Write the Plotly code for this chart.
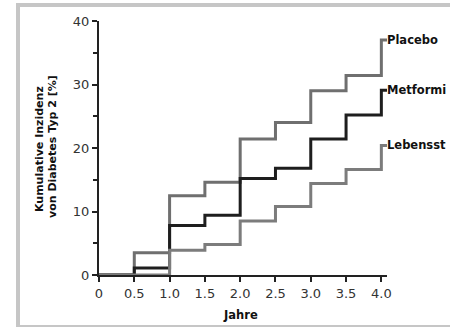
import plotly.graph_objects as go

# Data
years = [0, 0.5, 1.0, 1.5, 2.0, 2.5, 3.0, 3.5, 4.0, 4.08]
placebo = [0, 3.5, 12.5, 14.6, 21.4, 24.0, 29.0, 31.4, 37.0, 37.0]
metformin = [0, 1.1, 7.8, 9.4, 15.2, 16.8, 21.4, 25.2, 29.1, 29.1]
lebensstil = [0, 0, 3.9, 4.8, 8.5, 10.8, 14.4, 16.6, 20.4, 20.4]
series_names = ["Placebo", "Metformin", "Lebensstil"]
# labels as visible in the reference (cut at the picture's right edge)
series_labels = ["Placebo", "Metformi", "Lebensst"]
series_values = [placebo, metformin, lebensstil]
series_colors = ["#6f6f6f", "#1e1e1e", "#7c7c7c"]

x_tickvals = [0, 0.5, 1.0, 1.5, 2.0, 2.5, 3.0, 3.5, 4.0]
x_ticktext = ["0", "0.5", "1.0", "1.5", "2.0", "2.5", "3.0", "3.5", "4.0"]
y_tickvals = [0, 10, 20, 30, 40]
y_ticktext = ["0", "10", "20", "30", "40"]

fig = go.Figure()
for name, lab, vals, col in zip(series_names, series_labels, series_values, series_colors):
    fig.add_trace(go.Scatter(x=years, y=vals, mode="lines", line_shape="hv",
                             line=dict(color=col, width=3), name=name,
                             showlegend=False, hoverinfo="skip"))
    fig.add_annotation(x=years[-1], y=vals[-1], xref="x", yref="y",
                       text="<b>" + lab + "</b>", showarrow=False,
                       xanchor="left", yanchor="middle", xshift=-2,
                       font=dict(family="DejaVu Sans", size=11.5, color="#111111"))

W, H = 450, 327
L, R, T, B = 99, 63, 21, 52
pw, ph = W - L - R, H - T - B

def px(xp):
    return (xp - L) / pw

def py(yp):
    return (H - B - yp) / ph

axis_common = dict(showgrid=False, zeroline=False, showline=True,
                   linecolor="#222222", linewidth=2, ticks="outside",
                   ticklen=5, tickwidth=2, tickcolor="#222222",
                   tickfont=dict(family="DejaVu Sans", size=13, color="#333333"))

fig.update_xaxes(range=[0, 4.08], tickmode="array", tickvals=x_tickvals,
                 ticktext=x_ticktext, **axis_common)
fig.update_yaxes(range=[0, 40], tickmode="array", tickvals=y_tickvals,
                 ticktext=y_ticktext,
                 minor=dict(tickvals=[5, 15, 25, 35], ticks="outside", ticklen=4,
                            tickwidth=2, tickcolor="#222222"),
                 **axis_common)

# axis titles
fig.add_annotation(x=px(240), y=py(315), xref="paper", yref="paper",
                   text="<b>Jahre</b>", showarrow=False, xanchor="center", yanchor="middle",
                   font=dict(family="DejaVu Sans", size=11.5, color="#111111"))
fig.add_annotation(x=px(39), y=py(149), xref="paper", yref="paper",
                   text="<b>Kumulative Inzidenz</b>", showarrow=False, textangle=-90,
                   xanchor="center", yanchor="middle",
                   font=dict(family="DejaVu Sans", size=11, color="#111111"))
fig.add_annotation(x=px(52), y=py(147), xref="paper", yref="paper",
                   text="<b>von Diabetes Typ 2 [%]</b>", showarrow=False, textangle=-90,
                   xanchor="center", yanchor="middle",
                   font=dict(family="DejaVu Sans", size=11, color="#111111"))

# frame
frame_col = "#c6c6c6"
fig.add_shape(type="line", xref="paper", yref="paper", x0=px(18), x1=px(460),
              y0=py(5), y1=py(5), line=dict(color=frame_col, width=4), layer="below")
fig.add_shape(type="line", xref="paper", yref="paper", x0=px(18), x1=px(18),
              y0=py(3), y1=py(330), line=dict(color=frame_col, width=4), layer="below")
fig.add_shape(type="line", xref="paper", yref="paper", x0=px(18), x1=px(460),
              y0=py(326), y1=py(326), line=dict(color=frame_col, width=2), layer="below")

fig.update_layout(width=W, height=H, margin=dict(l=L, r=R, t=T, b=B),
                  paper_bgcolor="white", plot_bgcolor="white")

fig.write_html("out.html")
